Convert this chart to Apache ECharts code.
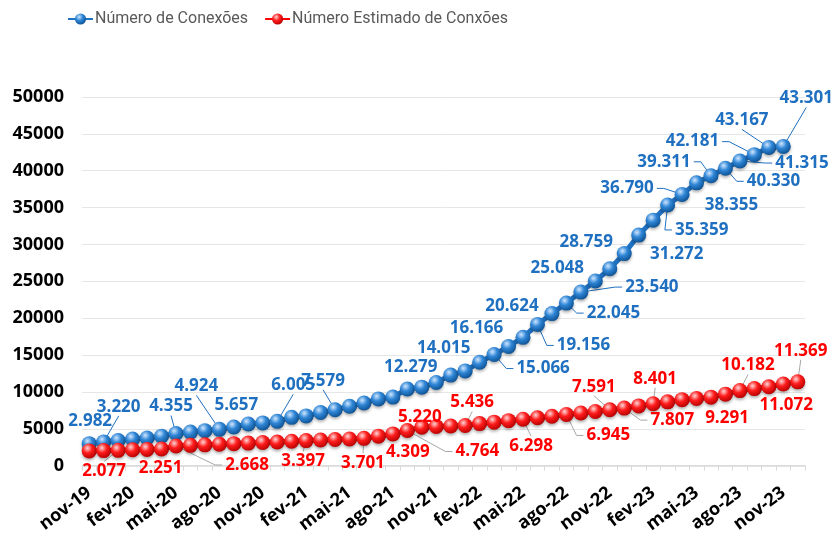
<!DOCTYPE html>
<html>
<head>
<meta charset="utf-8">
<script src="https://cdn.jsdelivr.net/npm/echarts@6/dist/echarts.min.js"></script>
<style>
html, body { margin: 0; padding: 0; background: #fff; }
#container { width: 834px; height: 536px; }
</style>
</head>
<body>
<div id="container"></div>
<script>
var categories = ['nov-19', 'dez-19',
    'jan-20', 'fev-20', 'mar-20', 'abr-20', 'mai-20', 'jun-20', 'jul-20', 'ago-20', 'set-20', 'out-20', 'nov-20', 'dez-20',
    'jan-21', 'fev-21', 'mar-21', 'abr-21', 'mai-21', 'jun-21', 'jul-21', 'ago-21', 'set-21', 'out-21', 'nov-21', 'dez-21',
    'jan-22', 'fev-22', 'mar-22', 'abr-22', 'mai-22', 'jun-22', 'jul-22', 'ago-22', 'set-22', 'out-22', 'nov-22', 'dez-22',
    'jan-23', 'fev-23', 'mar-23', 'abr-23', 'mai-23', 'jun-23', 'jul-23', 'ago-23', 'set-23', 'out-23', 'nov-23', 'dez-23'];

var conexoes = [2982, 3220, 3400, 3600, 3750, 4000, 4355, 4550, 4750, 4924, 5250, 5657, 5800, 6005,
    6550, 6750, 7200, 7579, 8050, 8500, 9050, 9300, 10400, 10650, 11270, 12279,
    12850, 14015, 15066, 16166, 17400, 19156, 20624, 22045, 23540, 25048, 26700, 28759,
    31272, 33300, 35359, 36790, 38355, 39311, 40330, 41315, 42181, 43167, 43301, null];

var estimado = [2000, 2040, 2077, 2150, 2200, 2251, 2668, 2750, 2820, 2900, 2980, 3060, 3130, 3200,
    3300, 3397, 3480, 3550, 3620, 3701, 4000, 4309, 4764, 5220, 5300, 5370,
    5436, 5700, 5900, 6100, 6298, 6500, 6700, 6945, 7150, 7350, 7591, 7807,
    8100, 8401, 8650, 8950, 9100, 9291, 9700, 10182, 10450, 10700, 11072, 11369];

var yTicks = [0, 5000, 10000, 15000, 20000, 25000, 30000, 35000, 40000, 45000, 50000];

// which points carry a label: [index, dx, dy, leader line]
var labelsConexoes = [
    [0, 1, -23, false], [1, 15, -35, true], [6, -5, -27, true], [9, -23, -43, true],
    [11, -12, -19, false], [13, 16, -36, true], [17, -12, -29, true], [25, -40, -8, false],
    [27, -36, -14, false], [28, 49, 14, true], [29, -32, -18, false], [31, 46, 21, true],
    [32, -40, -7, false], [33, 47, 10, true], [34, 71, -5, true], [35, -38, -13, false],
    [37, -38, -11, false], [38, 38, 19, false], [40, 34, 25, true], [41, -55, -6, true],
    [42, 35, 22, false], [43, -47, -14, true], [44, 48, 13, true], [45, 62, 2, true],
    [46, -62, -13, true], [47, -27, -27, true], [48, 23, -48, true]
];
var labelsEstimado = [
    [2, -14, 21, true], [5, -1, 19, false], [6, 71, 19, true], [15, -3, 21, true],
    [19, -1, 25, true], [21, 15, 18, false], [22, 70, 21, true], [23, -2, -10, false],
    [26, 7, -23, true], [30, 8, 27, true], [33, 42, 21, true], [36, -16, -23, true],
    [37, 48, 12, true], [39, 2, -25, true], [43, 16, 21, false], [45, 8, -25, true],
    [48, 3, 21, false], [49, 3, -31, true]
];

var LABEL_FONT = 'bold 17px "Open Sans"';

function fmt(v) {
    return String(v).replace(/\B(?=(\d{3})+(?!\d))/g, '.');
}

var measureCtx = document.createElement('canvas').getContext('2d');
function textWidth(t) {
    measureCtx.font = LABEL_FONT;
    return measureCtx.measureText(t).width;
}

function buildData(values, labels, color) {
    var map = {};
    labels.forEach(function (l) { map[l[0]] = l; });
    return values.map(function (v, i) {
        var l = map[i];
        if (!l) {
            return { value: v, label: { show: false } };
        }
        return {
            value: v,
            label: {
                show: true,
                position: 'inside',
                offset: [l[1], l[2]],
                color: color
            }
        };
    });
}

function sphere(light, mid, dark) {
    return {
        type: 'radial', x: 0.38, y: 0.32, r: 0.72,
        colorStops: [
            { offset: 0, color: light },
            { offset: 0.45, color: mid },
            { offset: 1, color: dark }
        ]
    };
}

var labelFont = {
    fontFamily: 'Open Sans',
    fontWeight: 'bold',
    fontSize: 17,
    formatter: function (p) { return fmt(p.value); }
};

var dom = document.getElementById('container');
var myChart = echarts.init(dom);

var option = {
    animation: false,
    legend: {
        left: 62,
        top: 6,
        itemGap: 16,
        itemWidth: 25,
        itemHeight: 14,
        textStyle: {
            fontFamily: 'Roboto',
            fontSize: 16,
            color: '#595959',
            padding: [0, 0, 0, -3]
        },
        data: ['Número de Conexões', 'Número Estimado de Conxões']
    },
    grid: {
        left: 82,
        right: 29,
        top: 97,
        bottom: 69
    },
    xAxis: {
        type: 'category',
        data: categories,
        boundaryGap: true,
        axisLine: { lineStyle: { color: '#d9d9d9', width: 1.5 } },
        axisTick: { show: true, interval: 0, length: 5, lineStyle: { color: '#d9d9d9' } },
        axisLabel: {
            interval: 2,
            rotate: 37,
            margin: 25,
            fontFamily: 'Open Sans',
            fontWeight: 'bold',
            fontSize: 18,
            color: '#000'
        }
    },
    yAxis: {
        type: 'value',
        min: yTicks[0],
        max: yTicks[yTicks.length - 1],
        interval: yTicks[1] - yTicks[0],
        axisLine: { show: false },
        axisTick: { show: false },
        splitLine: { lineStyle: { color: '#e6e6e6', width: 1 } },
        axisLabel: {
            margin: 18,
            fontFamily: 'Open Sans',
            fontWeight: 'bold',
            fontSize: 18,
            color: '#000',
            formatter: function (v) { return String(v); }
        }
    },
    series: [
        {
            name: 'Número de Conexões',
            type: 'line',
            data: buildData(conexoes, labelsConexoes, '#1f70c0'),
            symbol: 'circle',
            symbolSize: 15,
            showAllSymbol: true,
            lineStyle: { color: '#1f72c4', width: 5 },
            itemStyle: {
                color: sphere('#cfe6ff', '#2f86d6', '#0c4f90'),
                shadowColor: 'rgba(0,0,0,0.3)',
                shadowBlur: 3,
                shadowOffsetY: 2
            },
            label: labelFont
        },
        {
            name: 'Número Estimado de Conxões',
            type: 'line',
            data: buildData(estimado, labelsEstimado, '#ff0000'),
            symbol: 'circle',
            symbolSize: 15,
            showAllSymbol: true,
            lineStyle: { color: '#ff0000', width: 5 },
            itemStyle: {
                color: sphere('#ffd6d6', '#ff1c1c', '#b30000'),
                shadowColor: 'rgba(0,0,0,0.3)',
                shadowBlur: 3,
                shadowOffsetY: 2
            },
            label: labelFont
        }
    ]
};

if (option && typeof option === 'object') {
    myChart.setOption(option, true);
}

// leader lines from each point to its moved label, placed via the chart's own scales
function leaders(seriesIndex, values, labels, color) {
    var out = [];
    labels.forEach(function (l) {
        if (!l[3]) return;
        var p = myChart.convertToPixel({ seriesIndex: seriesIndex }, [l[0], values[l[0]]]);
        var cx = p[0] + l[1];
        var cy = p[1] + l[2];
        var hw = textWidth(fmt(values[l[0]])) / 2;
        var pts;
        if (Math.abs(l[1]) > hw + 4) {
            var s = l[1] > 0 ? 1 : -1;
            var ex = cx - s * (hw + 3);
            pts = [p, [ex - s * 7, cy], [ex, cy]];
        } else {
            var ey = l[2] > 0 ? cy - 10 : cy + 9;
            pts = [p, [cx, ey]];
        }
        out.push({
            type: 'polyline',
            z: 1,
            shape: { points: pts },
            style: { stroke: color, lineWidth: 1, fill: null }
        });
    });
    return out;
}

myChart.setOption({
    graphic: leaders(0, conexoes, labelsConexoes, '#1f70c0')
        .concat(leaders(1, estimado, labelsEstimado, '#a6a6a6'))
});
</script>
</body>
</html>
